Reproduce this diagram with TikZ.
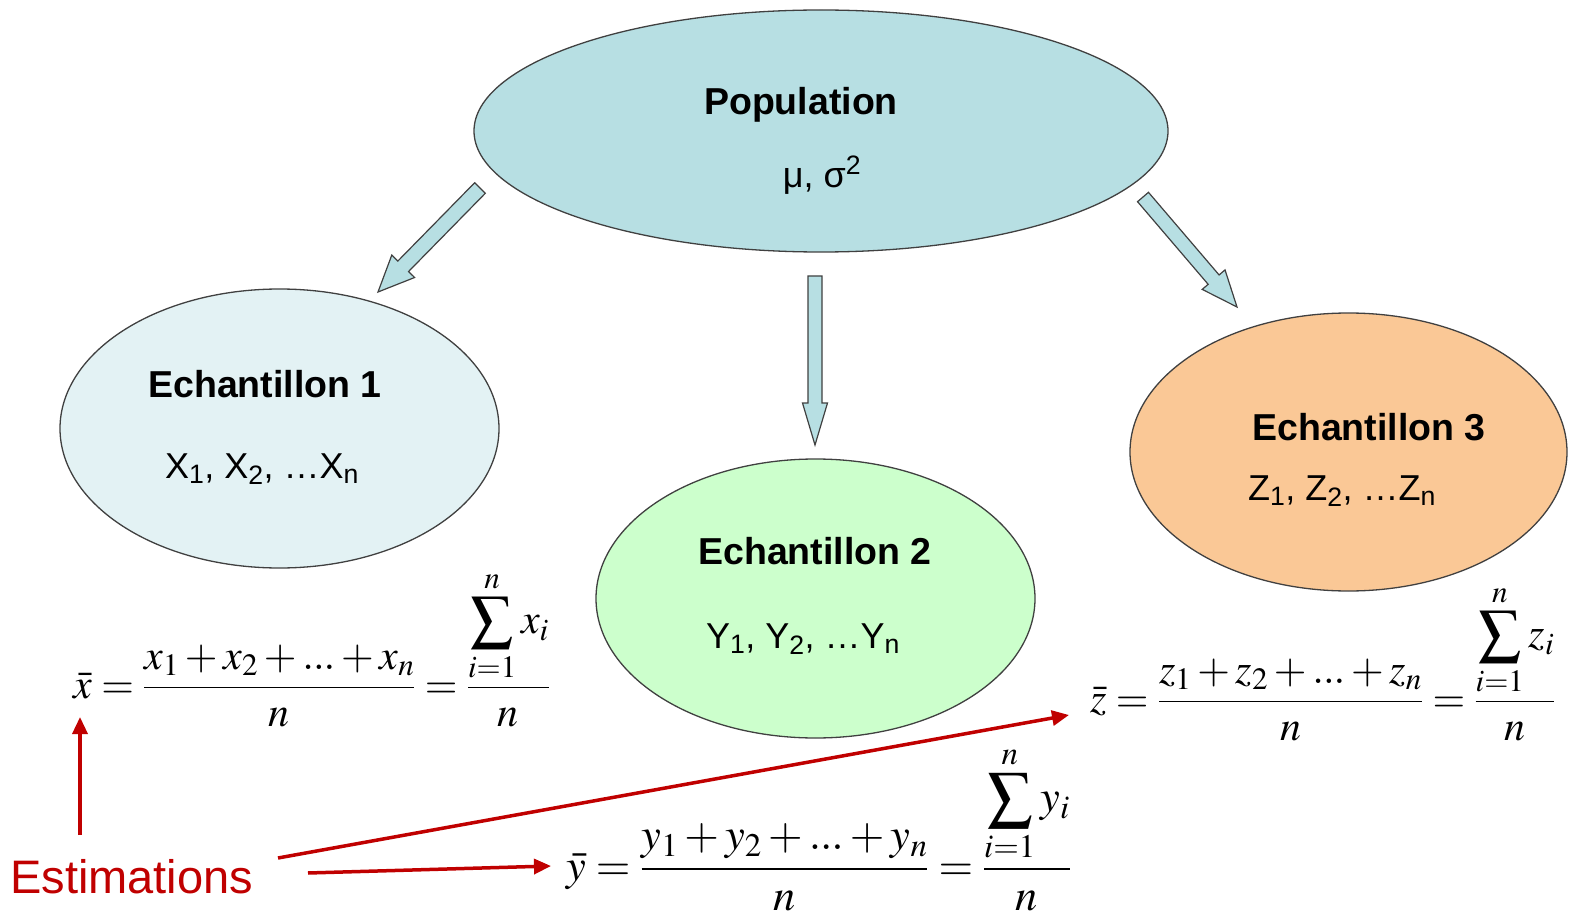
\documentclass[tikz,border=0pt]{standalone}
\usepackage{amsmath}
\usepackage{mathptmx}
\usepackage[no-math]{fontspec}
\setmainfont{Liberation Sans}
\usetikzlibrary{shapes.geometric,arrows.meta,calc}
\definecolor{popfill}{HTML}{B7DFE3}
\definecolor{eonefill}{HTML}{E3F2F4}
\definecolor{etwofill}{HTML}{CCFFCC}
\definecolor{ethreefill}{HTML}{FAC896}
\definecolor{estred}{HTML}{C00000}
\definecolor{edge}{HTML}{404040}
\tikzset{
  ell/.style={ellipse, draw=edge, line width=1.3pt, inner sep=0pt},
  ttl/.style={font=\fontsize{37.5}{45}\selectfont\bfseries, anchor=base, inner sep=0pt},
  var/.style={font=\fontsize{36}{43}\selectfont, anchor=base, inner sep=0pt},
  barrow/.style={draw=edge, fill=popfill, line width=1.2pt, line join=miter},
  estarrow/.style={draw=estred, line width=3.5pt, -{Triangle[length=17pt,width=15pt]}},
  fml/.style={font=\fontsize{42}{50}\selectfont, anchor=base west, inner sep=0pt},
}
\newcommand\blockarr[5]{%
  \coordinate (#1h) at ($(#2)!#5!(#1)$);
  \path[barrow] ($(#1)!#3!90:(#2)$) -- ($(#1h)!#3!90:(#2)$) -- ($(#1h)!#4!90:(#2)$)
    -- (#2) -- ($(#1h)!#4!-90:(#2)$) -- ($(#1h)!#3!-90:(#2)$) -- ($(#1)!#3!-90:(#2)$) -- cycle;}
\newcommand\tdots{\mathord{.\kern-1pt.\kern-1pt.}}
\newcommand\meanfrac[1]{\bar{#1} = \dfrac{#1_1+#1_2+\tdots+#1_n}{n\rule[-6pt]{0pt}{0pt}} = \dfrac{\displaystyle\sum\limits_{i=1}^{n} #1_i}{n\rule[-6pt]{0pt}{0pt}}}
\begin{document}
\begin{tikzpicture}[x=1pt,y=-1pt]
\useasboundingbox (0,0) rectangle (1569,917);

% ellipses
\node[ell, fill=popfill, minimum width=694pt, minimum height=242pt] (pop) at (821,131) {};
\node[ell, fill=eonefill, minimum width=439pt, minimum height=279pt] (e1) at (279.5,428.5) {};
\node[ell, fill=etwofill, minimum width=439pt, minimum height=279pt] (e2) at (815.5,598.5) {};
\node[ell, fill=ethreefill, minimum width=437pt, minimum height=278pt] (e3) at (1348.5,452) {};

% texts
\node[ttl] (popt) at (801,115) {Population};
\node[var] (popv) at (822,188) {μ, σ\textsuperscript{2}};
\node[ttl] (e1t) at (265,397) {Echantillon 1};
\node[var] (e1v) at (262,478) {X\textsubscript{1}, X\textsubscript{2}, …X\textsubscript{n}};
\node[ttl] (e2t) at (815,564) {Echantillon 2};
\node[var] (e2v) at (803,648) {Y\textsubscript{1}, Y\textsubscript{2}, …Y\textsubscript{n}};
\node[ttl] (e3t) at (1369,440) {Echantillon 3};
\node[var] (e3v) at (1342,500) {Z\textsubscript{1}, Z\textsubscript{2}, …Z\textsubscript{n}};

% block arrows
\coordinate (a1) at (480,188); \coordinate (b1) at (378,292);
\coordinate (a2) at (815,276); \coordinate (b2) at (815,445);
\coordinate (a3) at (1143,197); \coordinate (b3) at (1237,307);
\blockarr{a1}{b1}{7.5pt}{16pt}{36pt}
\blockarr{a2}{b2}{7pt}{12.5pt}{42pt}
\blockarr{a3}{b3}{7.2pt}{15pt}{36pt}

% formulas
\node[fml] (fx) at (73,698) {$\meanfrac{x}$};
\node[fml, font=\fontsize{44.5}{53}\selectfont] (fy) at (566,880) {$\meanfrac{y}$};
\node[fml] (fz) at (1090,712) {$\meanfrac{z}$};

% estimations
\node[font=\fontsize{47}{56}\selectfont, text=estred, anchor=base west, inner sep=0pt] (est) at (10,893) {Estimations};
\coordinate (s0) at (80,835);   \coordinate (t0) at (80,717);
\coordinate (s1) at (278,858);  \coordinate (t1) at (1069,715);
\coordinate (s2) at (308,873);  \coordinate (t2) at (551,866);
\draw[estarrow] (s0) -- (t0);
\draw[estarrow] (s1) -- (t1);
\draw[estarrow] (s2) -- (t2);
\end{tikzpicture}
\end{document}
